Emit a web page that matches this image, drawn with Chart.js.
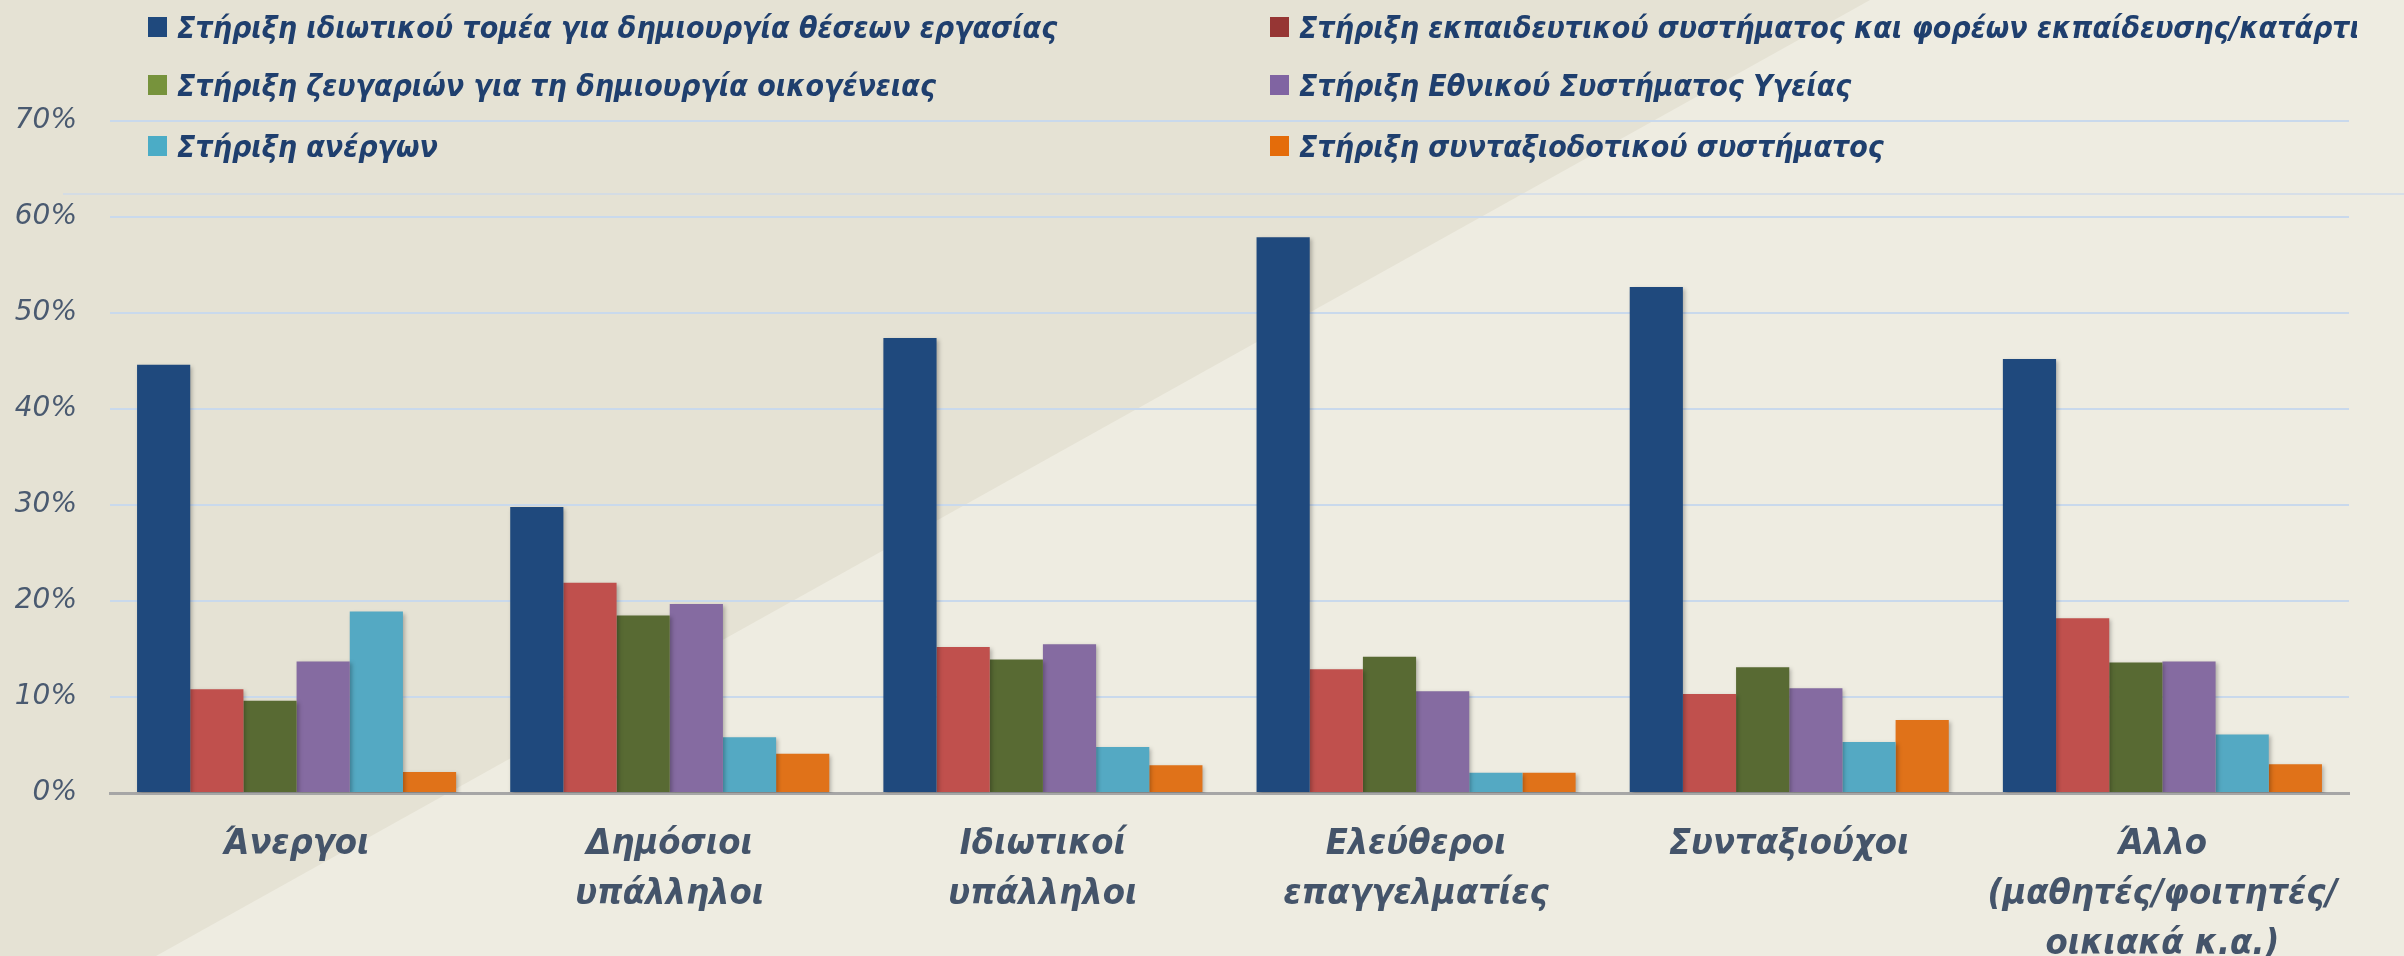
<!DOCTYPE html>
<html>
<head>
<meta charset="utf-8">
<script src="https://cdn.jsdelivr.net/npm/chart.js@4"></script>
<style>
  html, body { margin: 0; padding: 0; background: #eeece1; }
  canvas { display: block; }
</style>
</head>
<body>
<canvas id="myChart" width="2404" height="956"></canvas>
<script>
'use strict';

// categories (x axis), multi-line labels
const categories = [
  ['Άνεργοι'],
  ['Δημόσιοι', 'υπάλληλοι'],
  ['Ιδιωτικοί', 'υπάλληλοι'],
  ['Ελεύθεροι', 'επαγγελματίες'],
  ['Συνταξιούχοι'],
  ['Άλλο', '(μαθητές/φοιτητές/', 'οικιακά κ.α.)']
];

const seriesNames = [
  'Στήριξη ιδιωτικού τομέα για δημιουργία θέσεων εργασίας',
  'Στήριξη εκπαιδευτικού συστήματος και φορέων εκπαίδευσης/κατάρτισης',
  'Στήριξη ζευγαριών για τη δημιουργία οικογένειας',
  'Στήριξη Εθνικού Συστήματος Υγείας',
  'Στήριξη ανέργων',
  'Στήριξη συνταξιοδοτικού συστήματος'
];

// values in %
const privateSector = [44.6, 29.8, 47.4, 57.9, 52.7, 45.2];
const education     = [10.8, 21.9, 15.2, 12.9, 10.3, 18.2];
const couples       = [9.6, 18.5, 13.9, 14.2, 13.1, 13.6];
const health        = [13.7, 19.7, 15.5, 10.6, 10.9, 13.7];
const unemployed    = [18.9, 5.8, 4.8, 2.1, 5.3, 6.1];
const pensions      = [2.2, 4.1, 2.9, 2.1, 7.6, 3.0];

const yTicks = [0, 10, 20, 30, 40, 50, 60, 70];

const barColors = ['#1f497d', '#c0504d', '#586a33', '#856ba1', '#54a9c3', '#e07219'];
const legendColors = ['#1f497d', '#963634', '#77933c', '#8064a2', '#4bacc6', '#e46c0a'];

const labelFont = '"DejaVu Sans Condensed", "DejaVu Sans", sans-serif';

// slide background with the diagonal split
const backdrop = {
  id: 'backdrop',
  beforeDraw(chart) {
    const ctx = chart.ctx;
    ctx.save();
    ctx.fillStyle = '#eeece1';
    ctx.fillRect(0, 0, chart.width, chart.height);
    ctx.fillStyle = '#e5e2d4';
    ctx.beginPath();
    ctx.moveTo(0, 0);
    ctx.lineTo(1870, 0);
    ctx.lineTo(156, 956);
    ctx.lineTo(0, 956);
    ctx.closePath();
    ctx.fill();
    ctx.strokeStyle = 'rgba(205,218,235,0.7)';
    ctx.lineWidth = 2;
    ctx.beginPath();
    ctx.moveTo(63, 194);
    ctx.lineTo(chart.width, 194);
    ctx.stroke();
    ctx.restore();
  }
};

// soft shadow under the bars
const barShadow = {
  id: 'barShadow',
  beforeDatasetsDraw(chart) {
    const ctx = chart.ctx;
    ctx.save();
    ctx.shadowColor = 'rgba(0,0,0,0.25)';
    ctx.shadowBlur = 4;
    ctx.shadowOffsetX = 2;
    ctx.shadowOffsetY = 2;
  },
  afterDatasetsDraw(chart) {
    chart.ctx.restore();
  }
};

// two column legend laid over the top of the plot
const gridLegend = {
  id: 'gridLegend',
  afterDraw(chart) {
    const ctx = chart.ctx;
    const cols = [148, 1270];
    const rows = [27, 85, 146];
    ctx.save();
    ctx.beginPath();
    ctx.rect(0, 0, 2357, chart.height);
    ctx.clip();
    ctx.font = 'italic bold 30px ' + labelFont;
    ctx.textBaseline = 'alphabetic';
    chart.data.datasets.forEach((ds, i) => {
      const x = cols[i % 2];
      const y = rows[Math.floor(i / 2)];
      ctx.fillStyle = legendColors[i];
      ctx.fillRect(x, y - 10, 19, 20);
      ctx.fillStyle = '#1f3f6e';
      ctx.fillText(ds.label, x + 29, y + 11);
    });
    ctx.restore();
  }
};

const seriesData = [privateSector, education, couples, health, unemployed, pensions];

const ctx = document.getElementById('myChart').getContext('2d');
const chart = new Chart(ctx, {
  type: 'bar',
  data: {
    labels: categories,
    datasets: seriesData.map((d, i) => ({
      label: seriesNames[i],
      data: d,
      backgroundColor: barColors[i],
      borderWidth: 0,
      barPercentage: 1,
      categoryPercentage: 0.855
    }))
  },
  options: {
    responsive: false,
    animation: false,
    devicePixelRatio: 1,
    layout: { padding: { top: 121, right: 55, left: 0, bottom: 0 } },
    plugins: {
      legend: { display: false },
      tooltip: { enabled: false }
    },
    scales: {
      x: {
        afterFit(scale) { scale.height = 163; },
        grid: { display: false, drawTicks: false },
        border: { display: true, color: '#a6a6a6', width: 3 },
        ticks: {
          padding: 27,
          autoSkip: false,
          color: '#44546a',
          maxRotation: 0,
          font: { family: labelFont, size: 36, style: 'italic', weight: 'bold', lineHeight: 1.39 }
        }
      },
      y: {
        min: 0,
        max: 70,
        afterFit(scale) { scale.width = 110; },
        afterBuildTicks(scale) { scale.ticks = yTicks.map(v => ({ value: v })); },
        grid: { color: '#c9d9ec', lineWidth: 2, drawTicks: false },
        border: { display: false },
        ticks: {
          padding: 33,
          color: '#4a5a70',
          font: { family: '"DejaVu Sans", sans-serif', size: 28, style: 'italic' },
          callback: v => v + '%'
        }
      }
    }
  },
  plugins: [backdrop, barShadow, gridLegend]
});
</script>
</body>
</html>
